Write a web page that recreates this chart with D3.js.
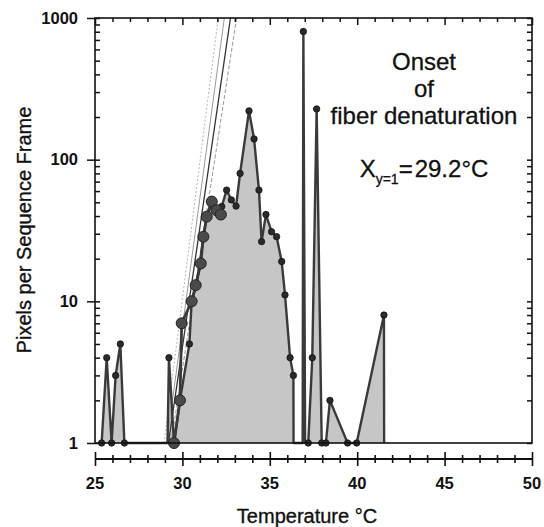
<!DOCTYPE html>
<html>
<head>
<meta charset="utf-8">
<script src="https://cdn.jsdelivr.net/npm/d3@7"></script>
<style>
  body { margin: 0; background: #fff; }
  text { font-family: "Liberation Sans", Arial, sans-serif; fill: #111; }
</style>
</head>
<body>
<div id="chart"></div>
<script>
// measured run with small markers
const tempA = [25.38, 25.67, 25.95, 26.18, 26.45, 26.68, 29.23, 29.52, 29.86, 30.4, 30.53, 30.8, 31.0, 31.2,
    31.39, 31.68, 32.15, 32.25, 32.53, 32.8, 33.07, 33.3, 33.81, 34.1, 34.38, 34.53, 34.78, 35.1, 35.39, 35.68,
    35.87, 36.16, 36.35, 36.92, 37.2, 37.43, 37.68, 37.97, 38.21, 38.44, 39.45, 39.97, 41.53];
const pixelsA = [1, 4, 1, 3, 5, 1, 4, 1, 2, 5, 10, 13, 18.5, 28.6,
    39.6, 50.6, 40, 46.7, 61, 52, 47, 80, 221, 140, 61, 26.4, 41, 31, 28.6, 19.1,
    11.1, 4, 3, 803, 1, 4, 228, 1, 1, 2, 1, 1, 8];

// where the trace drops back to the baseline (y = 1) between measurements
const edgeTemps = [29.15, 36.36, 36.88, 37.02, 41.54];

// run with large markers (rising edge)
const tempB = [29.52, 29.86, 29.96, 30.53, 30.76, 31.05, 31.2, 31.39, 31.68, 31.95, 32.2];
const pixelsB = [1, 2, 7, 10, 13, 18.5, 28.6, 39.6, 50.6, 44, 41];

// extrapolated onset fits: temperature at y=1 and at y=1000
const fitStart = [28.95, 29.1, 29.2, 29.35];
const fitEnd = [32.05, 32.4, 32.75, 33.1];

const xTicks = [25, 30, 35, 40, 45, 50];
const yTicks = [1, 10, 100, 1000];

const width = 544;
const height = 527;
const padL = 95, padR = 532, padT = 18, padB = 443;

const svg = d3.select('#chart')
    .append('svg')
    .attr('width', width)
    .attr('height', height);

const x = d3.scaleLinear().domain([25, 50]).range([padL, padR]);
const y = d3.scaleLog().domain([1, 1000]).range([padB, padT]);

const minorY = [];
for (let d = 1; d < 1000; d *= 10) {
    for (let k = 1; k < 10; k++) minorY.push(d * k);
}
minorY.push(1000);
const minorX = d3.range(25, 51, 1);

const plot = svg.append('g');

const pointsA = tempA.map((t, i) => ({ t, v: pixelsA[i] }));
const seriesA = pointsA.concat(edgeTemps.map(t => ({ t, v: 1 })))
    .sort((a, b) => a.t - b.t);
const seriesB = tempB.map((t, i) => ({ t, v: pixelsB[i] }));

plot.append('path')
    .datum(seriesA)
    .attr('fill', '#c6c6c6')
    .attr('d', d3.area().x(d => x(d.t)).y0(y(1)).y1(d => y(d.v)));

// onset fits
const fitStyles = [
    { stroke: '#b5b5b5', width: 1, dash: '2,2' },
    { stroke: '#999', width: 1, dash: null },
    { stroke: '#333', width: 1.3, dash: null },
    { stroke: '#999', width: 1, dash: '4,2' }
];
fitStart.forEach((s, i) => {
    plot.append('line')
        .attr('x1', x(s)).attr('y1', y(1))
        .attr('x2', x(fitEnd[i])).attr('y2', y(1000))
        .attr('stroke', fitStyles[i].stroke)
        .attr('stroke-width', fitStyles[i].width)
        .attr('stroke-dasharray', fitStyles[i].dash);
});

const line = d3.line().x(d => x(d.t)).y(d => y(d.v));

plot.append('path')
    .datum(seriesA)
    .attr('fill', 'none')
    .attr('stroke', '#3a3a3a')
    .attr('stroke-width', 2.4)
    .attr('stroke-linejoin', 'round')
    .attr('d', line);

plot.append('path')
    .datum(seriesB)
    .attr('fill', 'none')
    .attr('stroke', '#3a3a3a')
    .attr('stroke-width', 2.8)
    .attr('d', line);

plot.selectAll('.ptA')
    .data(pointsA)
    .enter()
    .append('circle')
    .attr('class', 'ptA')
    .attr('cx', d => x(d.t))
    .attr('cy', d => y(d.v))
    .attr('r', 3.2)
    .attr('fill', '#2a2a2a')
    .attr('stroke', '#111')
    .attr('stroke-width', 0.8);

plot.selectAll('.ptB')
    .data(seriesB)
    .enter()
    .append('circle')
    .attr('class', 'ptB')
    .attr('cx', d => x(d.t))
    .attr('cy', d => y(d.v))
    .attr('r', 5.5)
    .attr('fill', '#4a4a4a')
    .attr('stroke', '#222')
    .attr('stroke-width', 1);

// frame
svg.append('rect')
    .attr('x', padL).attr('y', padT)
    .attr('width', padR - padL).attr('height', padB - padT)
    .attr('fill', 'none')
    .attr('stroke', '#111')
    .attr('stroke-width', 1.6);

function styleTicks(g) {
    g.select('.domain').remove();
    g.selectAll('line').attr('stroke', '#111').attr('stroke-width', 1.5);
}

// left axis: outward majors with labels, inward minors
svg.append('g')
    .attr('transform', 'translate(' + padL + ',0)')
    .call(d3.axisLeft(y).tickValues(yTicks).tickSize(8).tickPadding(9).tickFormat(d3.format('d')))
    .call(styleTicks)
    .call(g => g.selectAll('text')
        .attr('font-size', 16.5)
        .attr('font-weight', 'bold')
        .attr('font-family', '"Liberation Sans", Arial, sans-serif')
        .attr('fill', '#111'));

svg.append('g')
    .attr('transform', 'translate(' + padL + ',0)')
    .call(d3.axisRight(y).tickValues(minorY).tickSize(5).tickFormat(''))
    .call(styleTicks);

// right border ticks
svg.append('g')
    .attr('transform', 'translate(' + padR + ',0)')
    .call(d3.axisLeft(y).tickValues(minorY).tickSize(5).tickFormat(''))
    .call(styleTicks);

// top border ticks
svg.append('g')
    .attr('transform', 'translate(0,' + padT + ')')
    .call(d3.axisBottom(x).tickValues(minorX).tickSize(4).tickFormat(''))
    .call(styleTicks)
    .call(g => g.selectAll('.tick')
        .filter(d => d % 5 === 0)
        .select('line').attr('y2', 7));

// detached x axis below the frame
const axisY = 459;
svg.append('g')
    .attr('transform', 'translate(0,' + axisY + ')')
    .call(d3.axisBottom(x).tickValues(minorX).tickSize(4).tickFormat(''))
    .call(g => g.select('.domain').attr('stroke', '#111').attr('stroke-width', 2).attr('d', 'M' + padL + ',0H' + padR))
    .call(g => g.selectAll('line').attr('stroke', '#111').attr('stroke-width', 1.6).attr('y1', -4))
    .call(g => g.selectAll('.tick')
        .filter(d => d % 5 === 0)
        .select('line').attr('y1', -7).attr('y2', 7));

svg.append('g')
    .selectAll('text')
    .data(xTicks)
    .enter()
    .append('text')
    .attr('x', d => x(d))
    .attr('y', 489)
    .attr('text-anchor', 'middle')
    .attr('font-size', 16.5)
    .attr('font-weight', 'bold')
    .text(d => d);

// axis titles
svg.append('text')
    .attr('x', 307)
    .attr('y', 523)
    .attr('text-anchor', 'middle')
    .attr('font-size', 20)
    .attr('stroke', '#111')
    .attr('stroke-width', 0.35)
    .text('Temperature °C');

svg.append('text')
    .attr('transform', 'translate(31,230) rotate(-90)')
    .attr('text-anchor', 'middle')
    .attr('font-size', 20)
    .attr('stroke', '#111')
    .attr('stroke-width', 0.35)
    .text('Pixels per Sequence Frame');

// annotation
['Onset', 'of', 'fiber denaturation'].forEach((s, i) => {
    svg.append('text')
        .attr('x', 424)
        .attr('y', [70, 97, 124][i])
        .attr('text-anchor', 'middle')
        .attr('font-size', 24)
        .attr('stroke', '#111')
        .attr('stroke-width', 0.3)
        .text(s);
});

const onset = svg.append('text')
    .attr('x', 424)
    .attr('y', 177)
    .attr('text-anchor', 'middle')
    .attr('font-size', 24)
    .attr('stroke', '#111')
    .attr('stroke-width', 0.3);
onset.append('tspan').text('X');
onset.append('tspan').attr('dy', 7).attr('font-size', 14).text('y=1');
onset.append('tspan').attr('dy', -7).text('=\u200a29.2°C');
</script>
</body>
</html>
